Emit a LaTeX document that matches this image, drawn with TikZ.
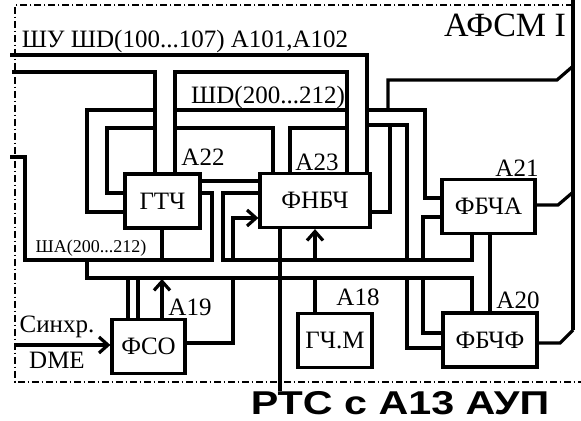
\documentclass[tikz,border=0pt]{standalone}
\usepackage{fontspec}
\setmainfont{Liberation Serif}
\newfontfamily\rtsfont{Liberation Sans}
\usetikzlibrary{arrows.meta}
\tikzset{
  blok/.style={draw, line width=1.6pt, inner sep=0pt, minimum height=27pt},
  wire/.style={line width=1.6pt},
  arr/.style={line width=1.6pt, -{Straight Barb[length=4.5pt, width=8pt]}},
  ramka/.style={line width=0.9pt, dash pattern=on 3.5pt off 1.3pt on 0.9pt off 1.3pt},
  lbl/.style={inner sep=0pt},
}

\begin{document}
\begin{tikzpicture}[x=0.5pt, y=-0.5pt, font=\fontsize{12.5}{14}\selectfont]
  \useasboundingbox (0,0) rectangle (581,421);
  % frame
  \draw[ramka] (573,5) -- (15,5) -- (15,382) -- (581,382);
  \node[lbl, font=\fontsize{17}{19}\selectfont] (title) at (505,25) {АФСМ I};

  % blocks
  \node[blok, minimum width=37.5pt] (gtch) at (162.5,201) {ГТЧ};
  \node[blok, minimum width=55pt] (fnbch) at (315,200.5) {ФНБЧ};
  \node[blok, minimum width=46.5pt] (fbcha) at (488.5,206.5) {ФБЧА};
  \node[blok, minimum width=36.5pt] (fso) at (148.5,346.5) {ФСО};
  \node[blok, minimum width=37pt] (gchm) at (335,340.5) {ГЧ.М};
  \node[blok, minimum width=47pt] (fbchf) at (490,340) {ФБЧФ};

  \node[lbl] (a22) at (203,157) {А22};
  \node[lbl] (a23) at (317,162) {А23};
  \node[lbl] (a21) at (517,168) {А21};
  \node[lbl] (a20) at (518,300) {А20};
  \node[lbl] (a19) at (190,307) {А19};
  \node[lbl] (a18) at (358,297) {А18};
  \node[lbl] (sinhr) at (57,327) {Синхр.};
  \node[lbl] (dme) at (57,360) {DME};
  \node[lbl] (shu) at (185,41) {ШУ ШD(100...107) А101,А102};
  \node[lbl] (shd) at (268,97) {ШD(200...212)};
  \node[lbl, font=\fontsize{9}{10}\selectfont] (sha) at (91,248) {ШA(200...212)};
  \node[lbl, font=\rtsfont\bfseries\fontsize{16.5}{18}\selectfont] (rts) at (400,403)
    {\scalebox{1.25}[1]{РТС с А13 АУП}};

  % upper buses
  \draw[wire] (10,55) -| (fnbch.north -| 367,0);
  \draw[wire] (12,72) -| (gtch.north -| 155,0);
  \draw[wire] (gtch.north -| 175,0) |- (347,72) -- (fnbch.north -| 347,0);
  \draw[wire] (175,110) -- (347,110);
  \draw[wire] (153,110) -| (87,212) -- (gtch.west |- 0,212);
  \draw[wire] (153,128) -| (107,193) -- (gtch.west |- 0,193);
  \draw[wire] (175,128) -| (fnbch.north -| 273,0);
  \draw[wire] (347,128) -| (fnbch.north -| 290,0);
  \draw[wire] (367,110) -| (425,198) -- (fbcha.west |- 0,198);
  \draw[wire] (388,110) |- (557,80) -- (572,67);
  \draw[wire] (367,125) -| (407,260);
  \draw[wire] (fnbch.east |- 0,212) -| (390,125);
  \draw[wire] (fbcha.west |- 0,217) -| (423,260);
  \draw[wire] (gtch.east |- 0,181) -- (fnbch.west |- 0,181);

  % middle buses
  \draw[wire] (fnbch.west |- 0,193) -| (223,260) -| (fbcha.south -| 472,0);
  \draw[wire] (gtch.east |- 0,193) -| (212,260) -| (25,157) -- (10,157);
  \draw[wire] (gtch.south -| 162,0) -- (162,260);
  \draw[arr] (233,260) |- (fnbch.west |- 0,218);
  \draw[wire] (fnbch.south -| 280,0) -- (rts.north -| 280,0);
  \draw[arr] (315,260) -- (fnbch.south -| 315,0);
  \draw[wire] (gchm.north -| 315,0) -- (315,278);
  \draw[wire] (87,260) |- (472,278) -- (fbchf.north -| 472,0);

  % lower blocks
  \draw[wire] (fso.north -| 128,0) -- (128,278);
  \draw[wire] (fso.north -| 138,0) -- (138,278);
  \draw[arr] (fso.north -| 162,0) -- (162,279);
  \draw[wire] (fso.east |- 0,343) -| (233,278);
  \draw[arr] (15,345) -- (fso.west |- 0,345);
  \draw[wire] (407,278) |- (fbchf.west |- 0,348);
  \draw[wire] (423,278) |- (fbchf.west |- 0,333);
  \draw[wire] (fbcha.south -| 490,0) -- (fbchf.north -| 490,0);

  % right bus
  \draw[wire] (573,0) -- (573,330);
  \draw[wire] (fbcha.east |- 0,205) -- (558,205) -- (572,193);
  \draw[wire] (fbchf.east |- 0,343) -- (560,343) -- (573,330);
\end{tikzpicture}
\end{document}
